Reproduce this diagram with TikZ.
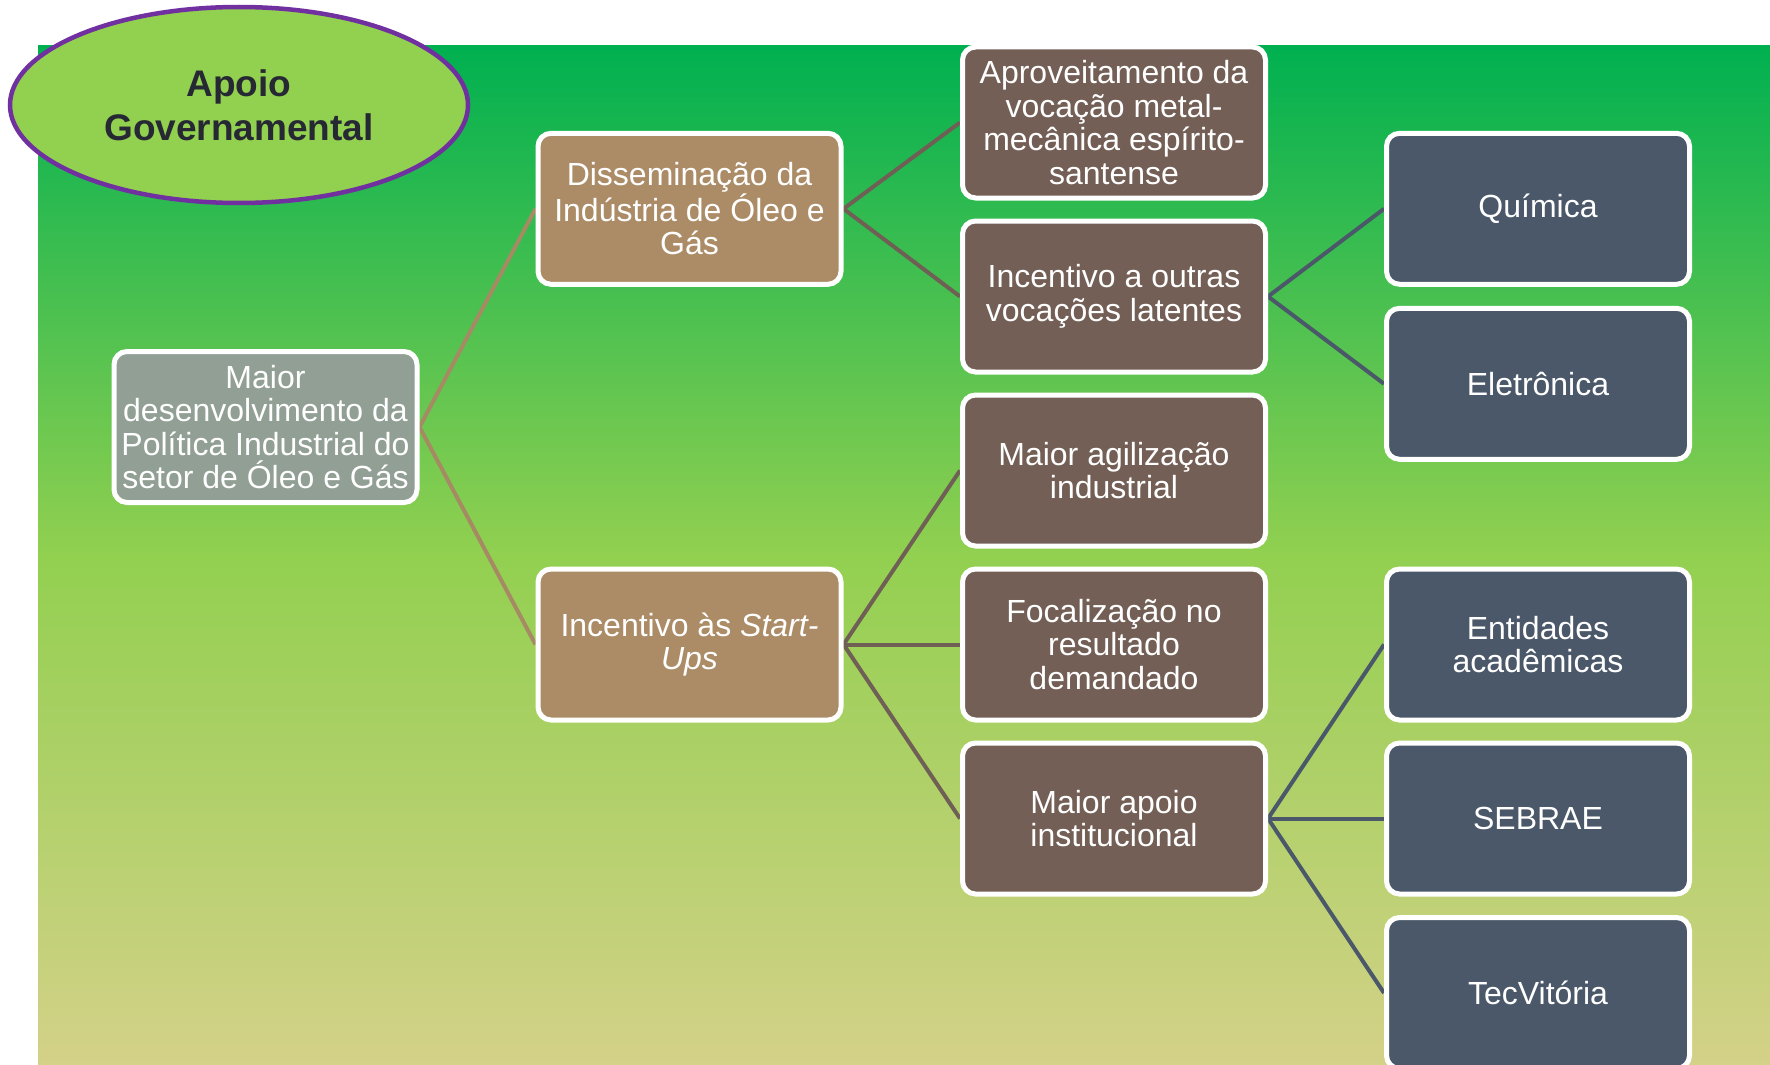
\documentclass[tikz,border=0pt]{standalone}
\usepackage{fontspec}
\setmainfont{Liberation Sans}
\usetikzlibrary{shapes.geometric}
\definecolor{bgtop}{HTML}{00B050}
\definecolor{bgmid}{HTML}{92D050}
\definecolor{bgbot}{HTML}{D4D188}
\definecolor{ellfill}{HTML}{92D050}
\definecolor{ellline}{HTML}{7030A0}
\definecolor{elltext}{HTML}{262833}
\definecolor{rootfill}{HTML}{919F95}
\definecolor{lvtwo}{HTML}{AC8C66}
\definecolor{lvthree}{HTML}{735F55}
\definecolor{lvfour}{HTML}{4B5869}
\definecolor{edgeone}{HTML}{A68A64}
\definecolor{edgetwo}{HTML}{6F5F55}
\definecolor{edgethree}{HTML}{4B5869}
\pgfdeclarelayer{bg}
\pgfdeclarelayer{edges}
\pgfsetlayers{bg,edges,main}
\begin{document}
\begin{tikzpicture}[x=1pt,y=-1pt,
  box/.style={draw=white, line width=5pt, rounded corners=13pt,
    minimum width=303pt, minimum height=151pt, inner sep=0pt,
    align=center, text=white, font=\fontsize{32}{33.5}\selectfont},
  rootbox/.style={box, fill=rootfill},
  twobox/.style={box, fill=lvtwo},
  threebox/.style={box, fill=lvthree},
  fourbox/.style={box, fill=lvfour},
  link/.style={line width=4pt},
  linkone/.style={link, draw=edgeone},
  linktwo/.style={link, draw=edgetwo},
  linkthree/.style={link, draw=edgethree},
  govell/.style={ellipse, draw=ellline, line width=4.5pt, fill=ellfill,
    minimum width=458pt, minimum height=196pt, inner sep=0pt, align=center,
    text=elltext, font=\bfseries\fontsize{37}{44}\selectfont}
]
\useasboundingbox (0,0) rectangle (1770,1065);
\begin{pgfonlayer}{bg}
  \fill[white] (0,0) rectangle (1770,1065);
  \shade[top color=bgtop, bottom color=bgmid] (38,46) rectangle (1770,556);
  \shade[top color=bgmid, bottom color=bgbot] (38,555) rectangle (1770,1065);
\end{pgfonlayer}

\node[govell] (gov) at (239,105) {Apoio\\Governamental};

\node[rootbox] (root) at (265.5,427) {Maior\\desenvolvimento da\\Política Industrial do\\setor de Óleo e Gás};

\node[twobox] (dis) at (689.5,208.8) {Disseminação da\\Indústria de Óleo e\\Gás};
\node[twobox] (stu) at (689.5,644.5) {Incentivo às \textit{Start-}\\\textit{Ups}};

\node[threebox] (apr) at (1114,122.5) {Aproveitamento da\\vocação metal-\\mecânica espírito-\\santense};
\node[threebox] (outv) at (1114,296.5) {Incentivo a outras\\vocações latentes};
\node[threebox] (agi) at (1114,470.5) {Maior agilização\\industrial};
\node[threebox] (foc) at (1114,644.5) {Focalização no\\resultado\\demandado};
\node[threebox] (apo) at (1114,818.5) {Maior apoio\\institucional};

\node[fourbox] (qui) at (1538,208.8) {Química};
\node[fourbox] (ele) at (1538,383.8) {Eletrônica};
\node[fourbox] (ent) at (1538,644.5) {Entidades\\acadêmicas};
\node[fourbox] (seb) at (1538,818.5) {SEBRAE};
\node[fourbox] (tec) at (1538,993) {TecVitória};

\begin{pgfonlayer}{edges}
  \draw[linkone] (root.east) -- (dis.west);
  \draw[linkone] (root.east) -- (stu.west);
  \draw[linktwo] (dis.east) -- (apr.west);
  \draw[linktwo] (dis.east) -- (outv.west);
  \draw[linktwo] (stu.east) -- (agi.west);
  \draw[linktwo] (stu.east) -- (foc.west);
  \draw[linktwo] (stu.east) -- (apo.west);
  \draw[linkthree] (outv.east) -- (qui.west);
  \draw[linkthree] (outv.east) -- (ele.west);
  \draw[linkthree] (apo.east) -- (ent.west);
  \draw[linkthree] (apo.east) -- (seb.west);
  \draw[linkthree] (apo.east) -- (tec.west);
\end{pgfonlayer}
\end{tikzpicture}
\end{document}
